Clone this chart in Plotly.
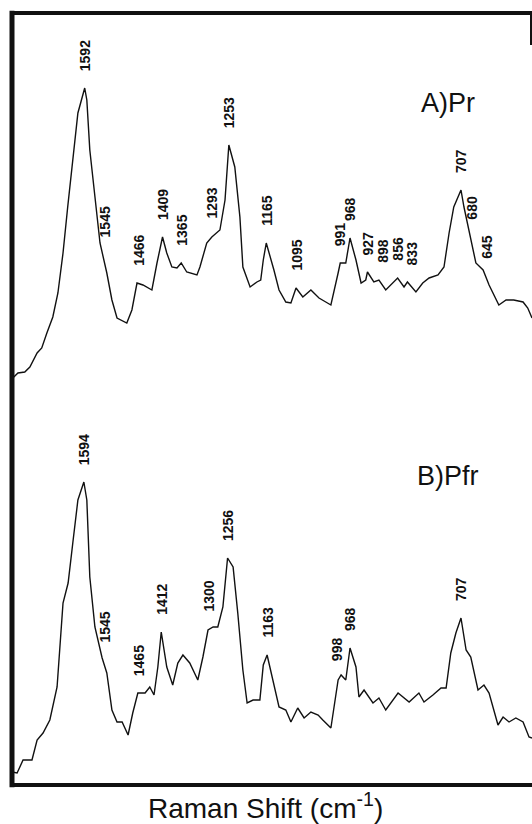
import numpy as np
import plotly.graph_objects as go

# ---- Spectrum A (Pr): Raman shift (cm-1) and intensity (arb. units)
wn_A = [1761, 1749, 1733, 1721, 1704, 1693, 1681, 1667, 1655, 1643, 1632, 1620, 1608,
        1592, 1587, 1580, 1568, 1556, 1540, 1528, 1516, 1493, 1481, 1469, 1455, 1434,
        1422, 1409, 1399, 1387, 1375, 1365, 1352, 1328, 1321, 1305, 1293, 1274, 1262,
        1253, 1239, 1227, 1220, 1203, 1187, 1178, 1172, 1165, 1147, 1135, 1119, 1107,
        1095, 1079, 1060, 1041, 1025, 1013, 996, 991, 978, 968, 954, 942, 931, 927,
        912, 900, 884, 856, 841, 833, 813, 797, 782, 761, 747, 735, 724, 707, 700,
        688, 672, 655, 641, 618, 601, 583, 561, 550, 540]
int_A = [22, 27, 28, 33, 47, 52, 67, 83, 107, 147, 193, 240, 287,
         312, 300, 250, 200, 157, 127, 100, 82, 77, 90, 117, 115, 110,
         137, 163, 147, 133, 132, 137, 128, 125, 133, 157, 163, 170, 200,
         255, 233, 183, 133, 113, 118, 120, 140, 157, 130, 110, 98, 97,
         112, 103, 110, 102, 98, 95, 127, 137, 137, 162, 140, 117, 120, 128,
         118, 120, 110, 122, 113, 118, 108, 117, 122, 125, 133, 167, 193, 210, 193,
         170, 137, 130, 115, 95, 100, 100, 98, 92, 82]

# ---- Spectrum B (Pfr)
wn_B = [1763, 1751, 1737, 1716, 1704, 1690, 1674, 1657, 1643, 1631, 1620, 1608, 1594,
        1587, 1580, 1568, 1551, 1540, 1528, 1516, 1504, 1490, 1479, 1467, 1450, 1439,
        1429, 1420, 1412, 1399, 1385, 1373, 1361, 1345, 1326, 1314, 1302, 1290, 1279,
        1267, 1256, 1243, 1232, 1220, 1210, 1196, 1180, 1172, 1163, 1145, 1135, 1119,
        1107, 1091, 1076, 1060, 1043, 1032, 1013, 996, 989, 978, 968, 954, 947, 935,
        914, 900, 884, 855, 829, 806, 794, 773, 754, 742, 731, 719, 707, 695, 684,
        667, 653, 641, 620, 608, 594, 578, 561, 547, 540]
int_B = [13, 12, 25, 25, 45, 52, 65, 98, 182, 202, 242, 285, 303,
         285, 208, 158, 127, 112, 75, 63, 63, 50, 72, 92, 92, 98,
         90, 118, 153, 118, 100, 122, 130, 122, 105, 128, 155, 158, 158,
         178, 227, 218, 172, 115, 82, 85, 85, 120, 130, 98, 78, 75,
         63, 77, 67, 73, 70, 65, 57, 105, 110, 105, 137, 118, 88, 95,
         82, 87, 75, 92, 83, 92, 83, 90, 97, 97, 132, 152, 167, 135, 128,
         95, 100, 92, 60, 68, 63, 67, 63, 48, 47]

# ---- Peak labels
labels_A = [1592, 1545, 1466, 1409, 1365, 1293, 1253, 1165, 1095, 991, 968,
            927, 898, 856, 833, 707, 680, 645]
labels_B = [1594, 1545, 1465, 1412, 1300, 1256, 1163, 998, 968, 707]

title_A = "A)Pr"
title_B = "B)Pfr"
x_title = "Raman Shift (cm<sup>-1</sup>)"

OFFSET_A = 385  # vertical stacking offset of spectrum A above B
X_RANGE = [1763, 540]
Y_RANGE = [0, 772]
GAP = 15
# small horizontal nudges (px) so crowded labels do not collide
LABEL_XSHIFT = {927: 1, 898: 3, 856: 0, 833: 5}

yA = [v + OFFSET_A for v in int_A]
yB = list(int_B)

fig = go.Figure()
for wn, yy in ((wn_A, yA), (wn_B, yB)):
    fig.add_trace(go.Scatter(x=wn, y=yy, mode="lines",
                             line=dict(color="#111111", width=1.4),
                             showlegend=False, hoverinfo="skip"))


def label_y(wn, yy, pos):
    xs = np.array(wn[::-1], dtype=float)
    ys = np.array(yy[::-1], dtype=float)
    grid = np.linspace(pos - 5, pos + 5, 21)
    return float(np.interp(grid, xs, ys).max()) + GAP


FONT = "Liberation Sans, Arial, sans-serif"
annos = []
for wn, yy, labs, is_a in ((wn_A, yA, labels_A, True), (wn_B, yB, labels_B, False)):
    for p in labs:
        annos.append(dict(x=p, y=label_y(wn, yy, p), xref="x", yref="y",
                          xshift=LABEL_XSHIFT.get(p, 0) if is_a else 0,
                          text=f"<b>{p}</b>", textangle=-90, showarrow=False,
                          xanchor="center", yanchor="bottom",
                          font=dict(family=FONT, size=14, color="#111111")))

annos.append(dict(x=(448 - 12) / 520, y=(785 - 103) / 772, xref="paper",
                  yref="paper", text=title_A, showarrow=False,
                  xanchor="center", yanchor="middle",
                  font=dict(family=FONT, size=27, color="#111111")))
annos.append(dict(x=(448 - 12) / 520, y=(785 - 476) / 772, xref="paper",
                  yref="paper", text=title_B, showarrow=False,
                  xanchor="center", yanchor="middle",
                  font=dict(family=FONT, size=27, color="#111111")))
annos.append(dict(x=(265 - 12) / 520, y=-(806 - 785) / 772, xref="paper",
                  yref="paper", text=x_title, showarrow=False,
                  xanchor="center", yanchor="middle",
                  font=dict(family=FONT, size=28, color="#111111")))

shapes = [
    dict(type="line", xref="paper", yref="paper", x0=0, x1=0, y0=-0.003, y1=1.003,
         line=dict(color="#111111", width=5)),
    dict(type="line", xref="paper", yref="paper", x0=0, x1=1, y0=1, y1=1,
         line=dict(color="#111111", width=4)),
    dict(type="line", xref="paper", yref="paper", x0=0, x1=1, y0=0, y1=0,
         line=dict(color="#111111", width=4)),
    dict(type="line", xref="paper", yref="paper", x0=(531 - 12) / 520,
         x1=(531 - 12) / 520, y0=1, y1=(785 - 45) / 772,
         line=dict(color="#111111", width=2)),
]

fig.update_layout(
    width=532, height=824,
    margin=dict(l=12, r=0, t=13, b=39, pad=0),
    paper_bgcolor="white", plot_bgcolor="white",
    xaxis=dict(range=X_RANGE, showgrid=False, zeroline=False, showticklabels=False,
               ticks="", showline=False),
    yaxis=dict(range=Y_RANGE, showgrid=False, zeroline=False, showticklabels=False,
               ticks="", showline=False),
    annotations=annos,
    shapes=shapes,
)

fig.write_html("out.html")
